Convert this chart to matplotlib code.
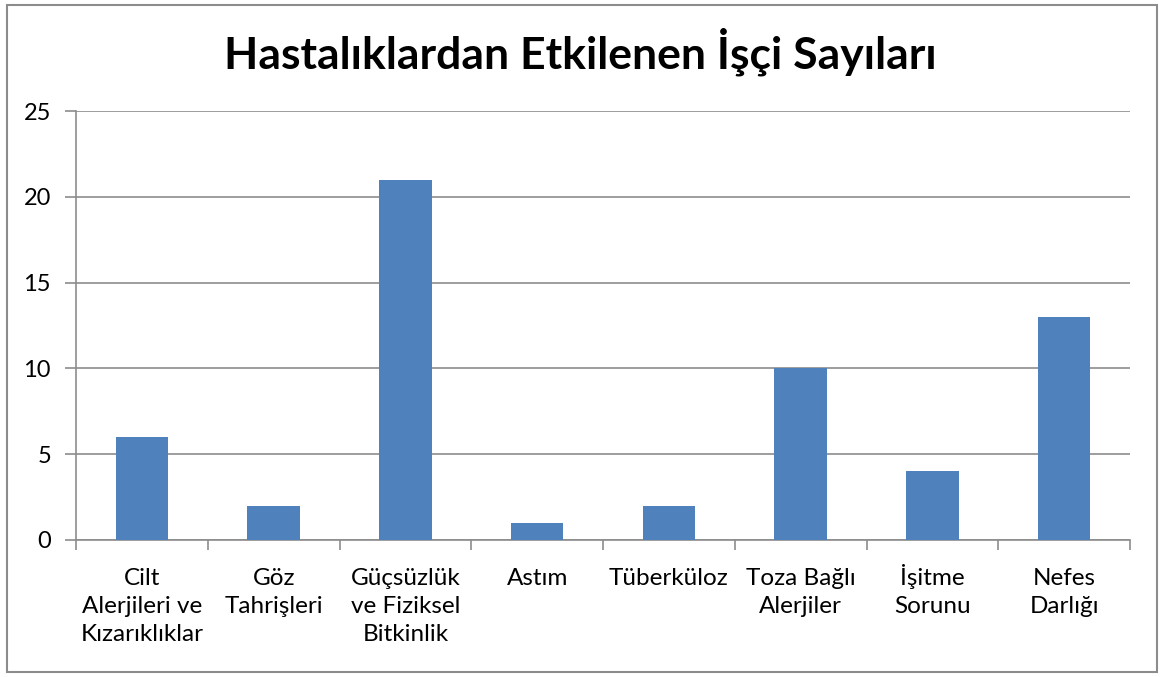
import matplotlib.pyplot as plt
import matplotlib.transforms as mtransforms
from matplotlib.patches import Rectangle

categories = [
    "Cilt\nAlerjileri ve\nKızarıklıklar",
    "Göz\nTahrişleri",
    "Güçsüzlük\nve Fiziksel\nBitkinlik",
    "Astım",
    "Tüberküloz",
    "Toza Bağlı\nAlerjiler",
    "İşitme\nSorunu",
    "Nefes\nDarlığı",
]
counts = [6, 2, 21, 1, 2, 10, 4, 13]
y_ticks = [0, 5, 10, 15, 20, 25]
title = "Hastalıklardan Etkilenen İşçi Sayıları"

plt.rcParams["font.family"] = ["Lato", "DejaVu Sans"]

fig = plt.figure(figsize=(11.6, 6.77), dpi=100)
fig.patches.append(Rectangle((7 / 1160, 5 / 677), 1150 / 1160, 667 / 677,
                             transform=fig.transFigure, fill=False,
                             edgecolor="#8c8c8c", linewidth=1.5))

ax = fig.add_axes([76 / 1160, 137 / 677, 1054 / 1160, 429 / 677])
x = range(len(categories))
ax.bar(x, counts, width=0.4, color="#4f81bd", zorder=3)

ax.set_xlim(-0.5, len(categories) - 0.5)
ax.set_ylim(0, 25)
ax.set_yticks(y_ticks)
ax.yaxis.grid(True, color="#8c8c8c", linewidth=1.2, zorder=0)
ax.tick_params(axis="y", labelsize=17, length=8, width=1.2, color="#8c8c8c", pad=10)

# category boundaries get the tick marks, labels sit on minor ticks at bar centres
ax.set_xticks([i + 0.5 for i in range(-1, len(categories))], minor=False)
ax.set_xticklabels([])
ax.set_xticks(list(x), minor=True)
labels = ax.set_xticklabels(categories, minor=True, fontsize=17.5, linespacing=1.42)
ax.tick_params(axis="x", which="major", length=7, width=1.2, color="#8c8c8c")
ax.tick_params(axis="x", which="minor", length=0, pad=20)

# the dot on "İ" pushes its line down a little; nudge it back up
for lab in labels:
    if lab.get_text().startswith("İ"):
        lab.set_transform(lab.get_transform() +
                          mtransforms.ScaledTranslation(0, 4 / 100, fig.dpi_scale_trans))

for side in ["top", "right"]:
    ax.spines[side].set_visible(False)
for side in ["left", "bottom"]:
    ax.spines[side].set_color("#8c8c8c")
    ax.spines[side].set_linewidth(1.2)

fig.text(0.5, 0.923, title, ha="center", va="center", fontsize=32, fontweight="bold")

fig.savefig("out.png", dpi=100)
